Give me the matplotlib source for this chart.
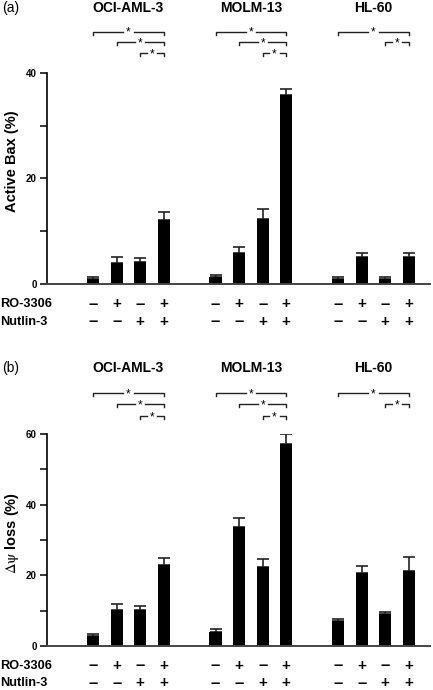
import matplotlib
matplotlib.use('Agg')
import matplotlib.pyplot as plt
from matplotlib.transforms import blended_transform_factory
from matplotlib.ticker import MultipleLocator
import numpy as np

plt.rcParams['font.family'] = ['Liberation Sans', 'DejaVu Sans']
plt.rcParams['mathtext.fontset'] = 'stix'

# ---- data ----
cell_lines = ['OCI-AML-3', 'MOLM-13', 'HL-60']
ro_3306 = ['\u2013', '+', '\u2013', '+']
nutlin_3 = ['\u2013', '\u2013', '+', '+']

bax_mean = [1.0, 4.1, 4.3, 12.1,
            1.3, 6.0, 12.3, 35.8,
            1.0, 5.2, 1.0, 5.1]
bax_err = [0.3, 1.0, 0.6, 1.6,
           0.5, 1.0, 1.9, 1.2,
           0.3, 0.7, 0.3, 0.8]

psi_mean = [2.8, 10.3, 10.2, 23.0,
            4.0, 33.7, 22.3, 57.2,
            7.1, 20.7, 9.0, 21.3]
psi_err = [0.6, 1.5, 1.0, 1.8,
           0.7, 2.4, 2.2, 2.7,
           0.5, 2.0, 0.6, 3.9]

# significance brackets: (group, first bar, last bar, row)
brackets = [(0, 0, 3, 0), (0, 1, 3, 1), (0, 2, 3, 2),
            (1, 0, 3, 0), (1, 1, 3, 1), (1, 2, 3, 2),
            (2, 0, 3, 0), (2, 2, 3, 1)]

group_step = 5.2
xpos = np.array([g * group_step + i for g in range(3) for i in range(4)])

fig = plt.figure(figsize=(4.33, 6.9), dpi=100)
H = 690.0


def fy(py):
    return 1 - py / H


def panel(tag, means, errs, ymax, ylabel, ax_top, ax_bot, title_y, br_rows, ro_y, nut_y, label_y):
    ax = fig.add_axes([46.7 / 433, fy(ax_bot), (430 - 46.7) / 433, (ax_bot - ax_top) / H])
    ax.bar(xpos, means, width=0.52, color='black', zorder=2)
    ax.errorbar(xpos, means, yerr=[np.zeros(len(errs)), errs], fmt='none',
                ecolor='#222222', elinewidth=1.2, capsize=4.5, capthick=1.2, zorder=1)
    ax.set_xlim(-1.97, xpos[-1] + 0.9)
    ax.set_ylim(0, ymax)
    ax.yaxis.set_major_locator(MultipleLocator(20))
    ax.yaxis.set_minor_locator(MultipleLocator(10))
    for s in ['top', 'right']:
        ax.spines[s].set_visible(False)
    ax.spines['left'].set_linewidth(1.2)
    ax.spines['bottom'].set_linewidth(1.4)
    ax.spines['bottom'].set_color('#444444')
    ax.set_xticks([])
    ax.tick_params(axis='y', which='both', direction='out', width=1.1, length=5,
                   labelsize=7, pad=2)
    ax.tick_params(axis='y', which='minor', labelleft=False)
    for t in ax.get_yticklabels():
        t.set_fontweight('bold')

    tr = blended_transform_factory(ax.transData, fig.transFigure)
    fig.text(0.005, fy(title_y), tag, fontsize=10, va='center', ha='left')
    for g, name in enumerate(cell_lines):
        cx = g * group_step + 1.5
        ax.text(cx, fy(title_y), name, transform=tr, fontsize=10, fontweight='bold',
                ha='center', va='center')

    # brackets with stars
    for g, i0, i1, row in brackets:
        x0 = g * group_step + i0
        x1 = g * group_step + i1
        yb = fy(br_rows[row])
        yd = 3.0 / H
        xm = (x0 + x1) / 2
        gap = 0.22
        kw = dict(transform=tr, color='#222222', lw=1.0, clip_on=False)
        ax.plot([x0, x0, xm - gap], [yb - yd, yb, yb], **kw)
        ax.plot([xm + gap, x1, x1], [yb, yb, yb - yd], **kw)
        ax.text(xm, yb - 1.0 / H, '*', transform=tr, fontsize=8.5, ha='center', va='center')

    # treatment table
    fig.text(0.0, fy(ro_y), 'RO-3306', fontsize=9.2, fontweight='bold', va='center')
    fig.text(0.0, fy(nut_y), 'Nutlin-3', fontsize=9.2, fontweight='bold', va='center')
    for k, x in enumerate(xpos):
        for sign, yy in ((ro_3306[k % 4], ro_y), (nutlin_3[k % 4], nut_y)):
            ax.text(x, fy(yy), sign, transform=tr, fontsize=11 if sign == '+' else 12,
                    fontweight='bold', ha='center', va='center')

    fig.text(12 / 433, fy(label_y), ylabel, rotation=90, ha='center', va='center',
             fontsize=10.5, fontweight='bold')
    return ax


panel('(a)', bax_mean, bax_err, 40, 'Active Bax (%)', 72.7, 284.3, 8,
      [31.7, 42.3, 53.3], 304, 322, 161)
panel('(b)', psi_mean, psi_err, 60, r'$\mathrm{\Delta\psi}$ loss (%)', 434, 646, 368,
      [393, 404, 416], 666, 683, 533)

fig.savefig('out.png', dpi=100)
